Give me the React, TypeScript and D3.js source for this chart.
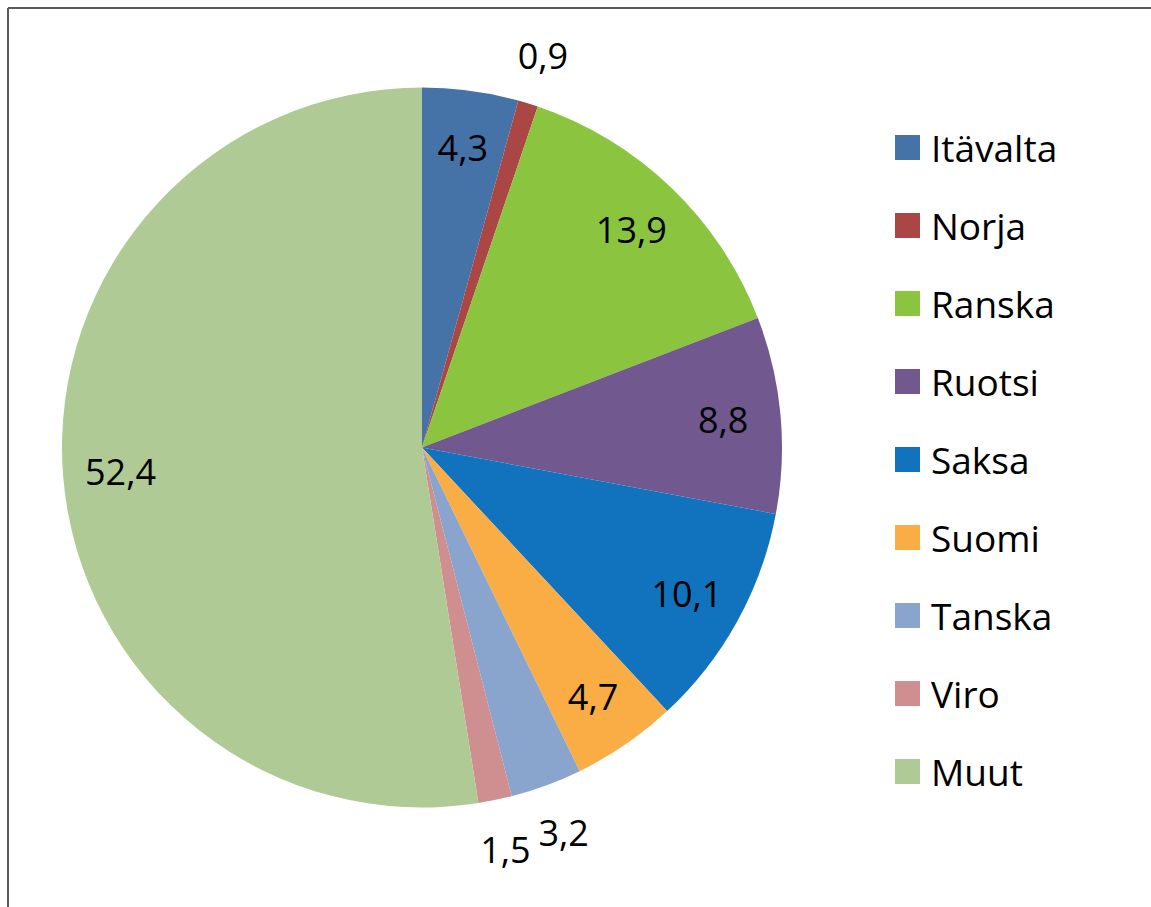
import React from "react";
import * as d3 from "d3";

const categories = ["Itävalta", "Norja", "Ranska", "Ruotsi", "Saksa", "Suomi", "Tanska", "Viro", "Muut"];
const values = [4.3, 0.9, 13.9, 8.8, 10.1, 4.7, 3.2, 1.5, 52.4];
const colors = ["#4572A7", "#AA4643", "#8BC43F", "#71588F", "#1173BD", "#F9AD44", "#8AA5CD", "#CF8E8F", "#AFCA95"];
const outsideLabels = ["Norja", "Tanska", "Viro"];

const W = 1151;
const H = 907;
const cx = 422;
const cy = 447.5;
const R = 360;
const FONT = "'Open Sans', sans-serif";

export default function App() {
  const pie = d3.pie<number>().sort(null).value((d) => d);
  const arcs = pie(values);
  const arcGen = d3.arc<d3.PieArcDatum<number>>().innerRadius(0).outerRadius(R);
  const fmt = (v: number) => d3.format(".1f")(v).replace(".", ",");

  const legendY = d3.scalePoint<string>().domain(categories).range([147, 771]);

  return (
    <svg width={W} height={H} style={{ position: "absolute", left: 0, top: 0, display: "block" }}>
      <rect x={0} y={0} width={W} height={H} fill="#ffffff" />
      <line x1={8} y1={8} x2={W} y2={8} stroke="#5a5a5a" strokeWidth={2} />
      <line x1={8} y1={8} x2={8} y2={H} stroke="#5a5a5a" strokeWidth={2} />
      <g transform={`translate(${cx},${cy})`}>
        {arcs.map((a, i) => (
          <path key={categories[i]} d={arcGen(a) || ""} fill={colors[i]} />
        ))}
        {arcs.map((a, i) => {
          const mid = (a.startAngle + a.endAngle) / 2;
          const outside = outsideLabels.includes(categories[i]);
          const r = outside ? R * 1.14 : R * 0.84;
          const x = Math.sin(mid) * r;
          const y = -Math.cos(mid) * r;
          return (
            <text
              key={"l" + i}
              x={x}
              y={y}
              textAnchor="middle"
              dominantBaseline="central"
              fontFamily={FONT}
              fontSize={36}
              fill="#000"
            >
              {fmt(values[i])}
            </text>
          );
        })}
      </g>
      <g>
        {categories.map((c, i) => {
          const y = legendY(c) as number;
          return (
            <g key={c}>
              <rect x={895} y={y - 12} width={25} height={25} fill={colors[i]} />
              <text x={931} y={y} dominantBaseline="central" fontFamily={FONT} fontSize={37} fill="#000">
                {c}
              </text>
            </g>
          );
        })}
      </g>
    </svg>
  );
}
